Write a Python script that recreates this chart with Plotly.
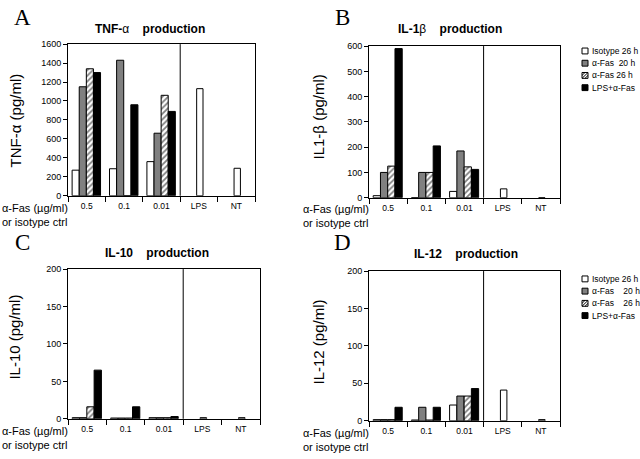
import plotly.graph_objects as go

W, H = 640, 459

# ---------------- data ----------------
dose_labels = ["0.5", "0.1", "0.01"]
ctrl_labels = ["LPS", "NT"]
tick_labels = dose_labels + ctrl_labels
series_names = ["Isotype 26 h", "α-Fas 20 h", "α-Fas 26 h", "LPS+α-Fas"]

# Panel A: TNF-alpha (pg/ml)
tnf_isotype = [270, 285, 360]
tnf_fas20 = [1150, 1430, 660]
tnf_fas26 = [1340, 0, 1060]
tnf_lpsfas = [1300, 960, 890]
tnf_ctrl = [1130, 290]

# Panel B: IL-1beta (pg/ml)
il1_isotype = [8, 0, 25]
il1_fas20 = [100, 100, 185]
il1_fas26 = [125, 100, 122]
il1_lpsfas = [590, 205, 112]
il1_ctrl = [35, 0]

# Panel C: IL-10 (pg/ml)
il10_isotype = [1.5, 1, 1.5]
il10_fas20 = [1.5, 1, 1.5]
il10_fas26 = [16, 1, 1.5]
il10_lpsfas = [65, 16, 3]
il10_ctrl = [1.5, 1.5]

# Panel D: IL-12 (pg/ml)
il12_isotype = [1.5, 1, 21]
il12_fas20 = [1.5, 18, 33]
il12_fas26 = [1.5, 1, 33]
il12_lpsfas = [18, 18, 43]
il12_ctrl = [41, 1.5]

FONT = "Liberation Sans, Arial, sans-serif"
SERIF = "Liberation Serif, Times New Roman, serif"

def px(x):
    return x / W

def py(y):
    return 1 - y / H

panels = [
    dict(key="1", dom=(68, 255, 40, 195), series=[tnf_isotype, tnf_fas20, tnf_fas26, tnf_lpsfas],
         ctrl=tnf_ctrl, yr=1600, dt=200, letter="A", lx=22, ly=13,
         title="<b>TNF-</b>α<b>\u00a0\u00a0\u00a0\u00a0production</b>", tx=150, ty=25,
         ytitle="TNF-α (pg/ml)", ytx=15, yty=118, fasx=0, fasy=205),
    dict(key="2", dom=(369, 560, 42, 197), series=[il1_isotype, il1_fas20, il1_fas26, il1_lpsfas],
         ctrl=il1_ctrl, yr=600, dt=100, letter="B", lx=342, ly=13,
         title="<b>IL-1</b>β<b>\u00a0\u00a0\u00a0\u00a0production</b>", tx=450, ty=25,
         ytitle="IL1-β (pg/ml)", ytx=318, yty=115, fasx=301, fasy=206),
    dict(key="3", dom=(68, 260, 270, 423), series=[il10_isotype, il10_fas20, il10_fas26, il10_lpsfas],
         ctrl=il10_ctrl, yr=200, dt=50, letter="C", lx=22, ly=243,
         title="<b>IL-10\u00a0\u00a0\u00a0\u00a0production</b>", tx=157, ty=254,
         ytitle="IL-10 (pg/ml)", ytx=15, yty=340, fasx=0, fasy=433),
    dict(key="4", dom=(369, 560, 272, 425), series=[il12_isotype, il12_fas20, il12_fas26, il12_lpsfas],
         ctrl=il12_ctrl, yr=200, dt=50, letter="D", lx=342, ly=243,
         title="<b>IL-12\u00a0\u00a0\u00a0\u00a0production</b>", tx=466, ty=255,
         ytitle="IL-12 (pg/ml)", ytx=318, yty=345, fasx=301, fasy=435),
]

fig = go.Figure()
annotations = []
shapes = []

bar_w = 0.19
offsets = [-0.39 + i * bar_w for i in range(4)]

def style(i):
    if i == 0:
        return dict(color="white", line=dict(color="black", width=1))
    if i == 1:
        return dict(color="#808080", line=dict(color="black", width=1))
    if i == 2:
        return dict(color="white", line=dict(color="black", width=1),
                    pattern=dict(shape="/", fgcolor="black", bgcolor="white", size=4, solidity=0.45))
    return dict(color="black", line=dict(color="black", width=1))

def ann(text, x, y, size, family=FONT, xanchor="center", yanchor="middle", **kw):
    d = dict(text=text, x=px(x), y=py(y), xref="paper", yref="paper", xanchor=xanchor,
             yanchor=yanchor, showarrow=False, font=dict(family=family, size=size, color="black"))
    d.update(kw)
    annotations.append(d)

for p in panels:
    k = p["key"]
    xa = "x" if k == "1" else "x" + k
    ya = "y" if k == "1" else "y" + k
    for i, vals in enumerate(p["series"]):
        fig.add_trace(go.Bar(x=[0, 1, 2], y=vals, name=series_names[i], offset=offsets[i], width=bar_w,
                             marker=style(i), xaxis=xa, yaxis=ya, showlegend=False))
    fig.add_trace(go.Bar(x=[3, 4], y=p["ctrl"], name="control", offset=-0.06, width=0.17,
                         marker=style(0), xaxis=xa, yaxis=ya, showlegend=False))
    x0, x1, y0, y1 = p["dom"]
    xkey = "xaxis" if k == "1" else "xaxis" + k
    ykey = "yaxis" if k == "1" else "yaxis" + k
    fig.update_layout({
        xkey: dict(domain=[px(x0), px(x1)], anchor=ya, range=[-0.5, 4.5], tickmode="array",
                   tickvals=[0, 1, 2, 3, 4], ticktext=tick_labels, ticks="", showgrid=False,
                   showline=True, mirror=True, linecolor="black", linewidth=1, zeroline=False,
                   tickfont=dict(size=8.5, family=FONT, color="black"), ticklabelstandoff=2,
                   minor=dict(tick0=0.5, dtick=1, ticks="outside", ticklen=5, tickcolor="black",
                              tickwidth=1, showgrid=False)),
        ykey: dict(domain=[py(y1), py(y0)], anchor=xa, range=[0, p["yr"]], dtick=p["dt"],
                   ticks="outside", ticklen=4, tickcolor="black", showgrid=False, showline=True,
                   mirror=True, linecolor="black", linewidth=1, zeroline=False,
                   tickfont=dict(size=9, family=FONT, color="black")),
    })
    shapes.append(dict(type="line", xref=xa, yref=ya + " domain", x0=2.5, x1=2.5, y0=0, y1=1,
                       line=dict(color="black", width=1)))
    ann(p["letter"], p["lx"], p["ly"], 23, family=SERIF)
    ann(p["title"], p["tx"], p["ty"], 12)
    ann(p["ytitle"], p["ytx"], p["yty"], 15, textangle=-90)
    ann("α-Fas (µg/ml)<br>or isotype ctrl", p["fasx"], p["fasy"] - 6, 11,
        xanchor="left", yanchor="top", align="left")

# ---- manual legends (right of B and D) ----
legend_texts_B = ["Isotype 26 h", "α-Fas\u00a0\u00a020 h", "α-Fas\u00a026 h", "LPS+α-Fas"]
legend_texts_D = ["Isotype 26 h", "α-Fas\u00a0\u00a0\u00a0\u00a020 h", "α-Fas\u00a0\u00a0\u00a0\u00a026 h", "LPS+α-Fas"]
fills = ["white", "#808080", "white", "black"]

def add_legend(rows, texts):
    sx0 = 582
    s = 6
    for i, (yc, t) in enumerate(zip(rows, texts)):
        ya0, ya1 = yc - s / 2, yc + s / 2
        shapes.append(dict(type="rect", xref="paper", yref="paper", x0=px(sx0), x1=px(sx0 + s),
                           y0=py(ya1), y1=py(ya0), fillcolor=fills[i],
                           line=dict(color="black", width=1)))
        if i == 2:
            segs = [((sx0, ya0 + 3), (sx0 + 3, ya0)), ((sx0, ya1), (sx0 + s, ya0)),
                    ((sx0 + 3, ya1), (sx0 + s, ya0 + 3))]
            path = " ".join(f"M{px(a[0])},{py(a[1])} L{px(b[0])},{py(b[1])}" for a, b in segs)
            shapes.append(dict(type="path", xref="paper", yref="paper", path=path,
                               line=dict(color="black", width=1)))
        ann(t, sx0 + s + 2, yc, 8.5, xanchor="left")

add_legend([47, 59.5, 72, 84.5], legend_texts_B)
add_legend([280, 292.5, 305, 317.5], legend_texts_D)

fig.update_layout(width=W, height=H, margin=dict(l=0, r=0, t=0, b=0), barmode="overlay",
                  paper_bgcolor="white", plot_bgcolor="white", annotations=annotations,
                  shapes=shapes, showlegend=False, font=dict(family=FONT, color="black"))

fig.write_html("out.html", config={"displayModeBar": False},
               post_script="document.body.style.margin='0';document.body.style.overflow='hidden';")
